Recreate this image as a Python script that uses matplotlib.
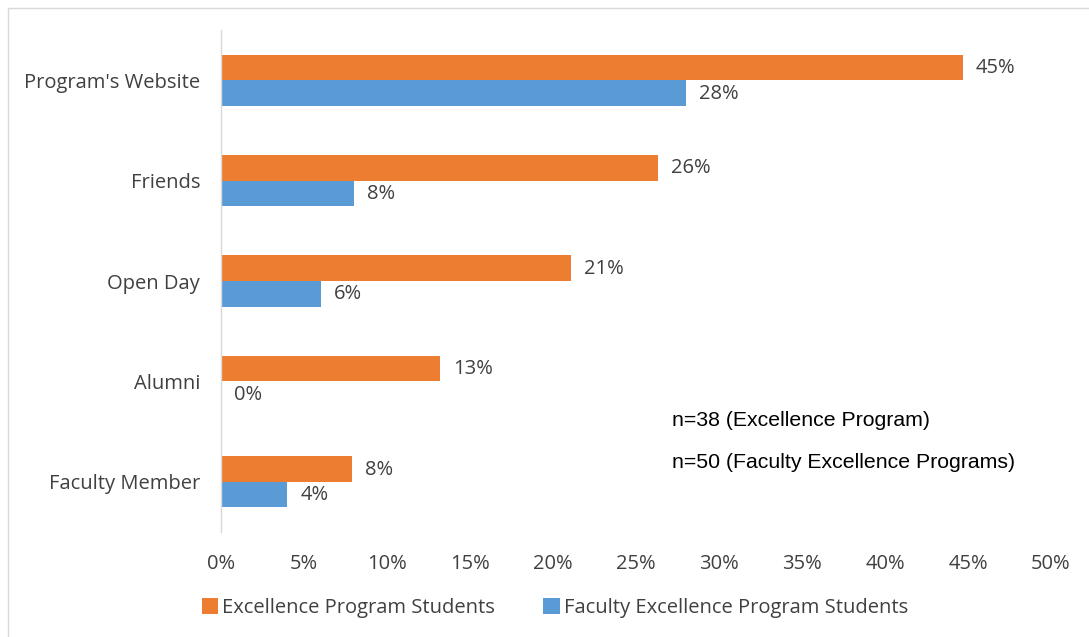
import matplotlib
matplotlib.use("Agg")
import matplotlib.pyplot as plt
import numpy as np
from matplotlib.patches import Rectangle
from matplotlib.ticker import FuncFormatter

categories = ["Program's Website", "Friends", "Open Day", "Alumni", "Faculty Member"]
excellence = [44.7, 26.3, 21.1, 13.2, 7.9]
faculty = [28, 8, 6, 0, 4]
series_names = ["Excellence Program Students", "Faculty Excellence Program Students"]
xticks = [0, 5, 10, 15, 20, 25, 30, 35, 40, 45, 50]
notes = ["n=38 (Excellence Program)", "n=50 (Faculty Excellence Programs)"]

ORANGE = "#ED7D31"
BLUE = "#5B9BD5"
TXT = "#404040"
FONT = ["Open Sans", "DejaVu Sans"]
FS = 14.5

fig = plt.figure(figsize=(10.89, 6.37), dpi=100)
fig.patches.append(Rectangle((8 / 1089, -0.1), 1.2, 1 - 8 / 637 + 0.1,
                             transform=fig.transFigure, fill=False,
                             edgecolor="#d9d9d9", linewidth=1.0))
ax = fig.add_axes([221 / 1089, 1 - 532 / 637, (1051 - 221) / 1089, (532 - 30) / 637])

y = np.arange(len(categories))
h = 0.255
b1 = ax.barh(y - h / 2, excellence, height=h, color=ORANGE, label=series_names[0])
b2 = ax.barh(y + h / 2, faculty, height=h, color=BLUE, label=series_names[1])

for bars, vals in ((b1, excellence), (b2, faculty)):
    for rect, v in zip(bars, vals):
        ax.annotate(f"{v:.0f}%", (v, rect.get_y() + rect.get_height() / 2),
                    xytext=(9.4, -0.5), textcoords="offset points",
                    va="center", ha="left", fontsize=FS, color=TXT, family=FONT)

ax.set_xlim(0, 50)
ax.set_ylim(len(categories) - 0.5, -0.5)
ax.set_xticks(xticks)
ax.xaxis.set_major_formatter(FuncFormatter(lambda v, p: f"{int(v)}%"))
ax.set_yticks(y)
ax.set_yticklabels(categories)
ax.tick_params(axis="both", length=0, labelsize=FS, colors=TXT)
ax.tick_params(axis="x", pad=16)
ax.tick_params(axis="y", pad=15)
for lab in ax.get_xticklabels() + ax.get_yticklabels():
    lab.set_family(FONT)
for s in ("top", "right", "bottom"):
    ax.spines[s].set_visible(False)
ax.spines["left"].set_color("#d9d9d9")
ax.spines["left"].set_linewidth(1.0)

for i, t in enumerate(notes):
    fig.text(672 / 1089, 1 - (420 + 43 * i) / 637, t, ha="left", va="center",
             fontsize=15.3, color="black", family=["Liberation Sans", "DejaVu Sans"])

leg = fig.legend(handles=[b1, b2], labels=series_names, loc="center",
                 bbox_to_anchor=(555 / 1089, 1 - 608 / 637), ncol=2, frameon=False,
                 handlelength=0.8, handleheight=0.8, handletextpad=0.2,
                 columnspacing=2.4, prop={"family": FONT, "size": FS})
for t in leg.get_texts():
    t.set_color(TXT)

fig.savefig("out.png", dpi=100)
